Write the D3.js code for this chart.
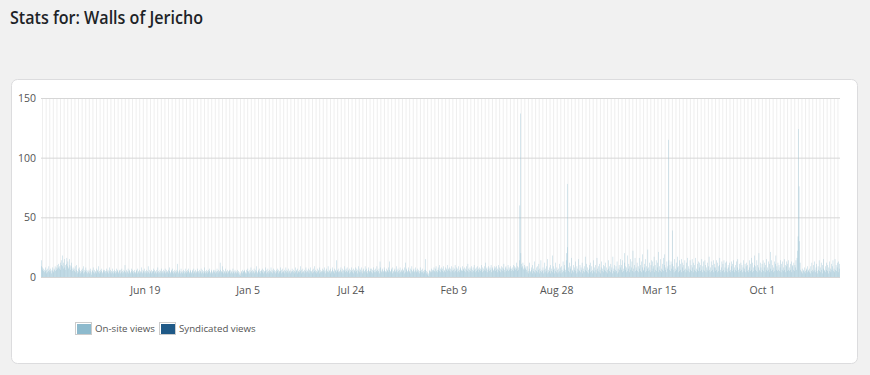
<!doctype html>
<html lang="en">
<head>
	<meta charset="UTF-8">
	<title>Stats for: Walls of Jericho</title>
	<script src="https://d3js.org/d3.v7.min.js"></script>
	<style>
		body { margin: 0; background: #f1f1f1; }
		svg { display: block; }
		text { font-family: 'Open Sans', 'Noto Sans', sans-serif; }
	</style>
</head>
<body>
	<div id="chart"></div>

	<script>
		// daily on-site views, one array per year, one inner array per month
		// 2012 starts on Nov 29
		var views2012 = [
			[14, 9],
			[6,8,5,7,4,6,5,8,3,6, 4,7,5,9,6,4,7,5,3,6, 8,5,4,7,6,9,5,8,6,10, 7]
		]
		var views2013 = [
			[8,11,7,9,12,6,10,14,18,9, 7,12,15,8,10,6,11,16,9,13, 7,8,15,10,6,9,12,7,5,8, 6],
			[7,5,9,4,6,10,5,3,7,4, 6,8,5,3,6,4,7,5,9,3, 4,6,5,8,4,6,3,5],
			[4,6,3,5,7,4,2,6,5,8, 4,3,6,5,4,7,3,5,6,4, 9,5,3,6,4,5,7,3,4,6, 5],
			[6,4,5,3,7,5,4,6,3,5, 8,4,6,3,5,4,7,5,3,6, 4,5,3,7,4,6,5,3,4,6],
			[5,3,6,4,7,5,3,4,6,5, 10,4,3,6,5,4,7,3,5,6, 4,3,5,7,4,6,3,5,4,6, 3],
			[4,6,5,3,7,4,5,6,3,4, 5,8,4,3,6,5,4,7,3,5, 4,6,3,5,9,4,6,3,5,4],
			[6,3,5,4,7,5,3,6,4,5, 3,6,4,8,5,3,4,6,5,3, 7,4,5,3,6,4,5,7,3,4, 6],
			[5,4,6,3,5,8,4,3,6,5, 4,7,3,5,4,6,3,5,4,6, 11,5,3,4,6,5,3,7,4,5, 3],
			[4,6,5,3,7,4,5,3,6,4, 5,7,3,4,6,5,3,4,6,5, 3,7,4,5,6,3,4,5,7,4],
			[5,3,6,4,5,7,3,4,6,5, 3,4,8,5,3,6,4,5,3,6, 4,7,5,3,4,6,5,3,4,6, 5],
			[4,6,3,5,4,7,5,3,6,4, 5,12,6,4,5,9,4,3,6,5, 4,7,3,5,4,6,3,5,4,6],
			[5,3,6,4,5,3,7,4,5,3, 6,4,5,3,4,6,3,5,4,2, 1,3,5,4,6,3,5,4,6,5, 3]
		]
		var views2014 = [
			[4,6,3,5,7,4,5,3,6,4, 8,5,3,6,4,5,7,3,4,6, 5,9,4,3,6,5,4,7,5,3, 6],
			[5,4,7,3,6,5,4,8,5,3, 6,4,7,5,3,6,4,5,8,4, 6,3,5,7,4,6,5,3],
			[6,4,5,7,3,6,5,4,8,5, 3,6,4,7,5,4,6,3,5,8, 4,6,5,3,7,4,5,6,3,5, 4],
			[7,5,4,6,3,5,8,4,6,5, 3,7,4,5,6,4,9,5,3,6, 4,7,5,4,6,3,5,8,4,6],
			[5,4,7,3,6,5,8,4,5,6, 3,7,4,5,9,4,6,3,5,7, 4,6,5,3,8,4,6,5,4,7, 5],
			[6,4,8,5,3,6,7,4,5,9, 4,6,5,3,7,5,4,8,6,4, 5,7,3,6,5,4,14,5,6,4],
			[7,5,4,6,8,4,5,7,3,6, 5,9,6,4,7,5,8,4,6,5, 3,7,6,4,8,5,4,6,7,3, 5],
			[6,8,4,5,7,3,6,9,5,4, 7,6,4,8,5,3,6,7,4,5, 9,6,4,7,5,3,6,8,4,5, 7],
			[5,4,7,6,3,8,5,4,6,7, 4,5,9,6,4,5,7,3,13,8, 5,4,6,7,4,5,8,6,4,5],
			[7,4,6,5,8,4,6,13,5,4, 7,6,3,8,5,4,6,7,4,5, 9,6,4,7,5,3,6,8,4,5, 6],
			[4,7,5,6,3,8,12,4,6,7, 4,5,8,6,4,5,7,3,6,9, 5,4,6,7,4,5,8,6,4,5],
			[7,4,6,5,3,8,5,4,6,7, 4,5,3,6,4,15,6,3,5,4, 2,1,3,5,6,4,5,7,4,6, 5]
		]
		var views2015 = [
			[6,8,5,4,7,9,5,6,4,8, 6,5,10,7,4,6,8,5,7,4, 9,6,5,8,4,7,6,10,5,7, 6],
			[8,5,7,4,9,6,5,8,6,4, 7,10,5,6,8,4,7,5,9,6, 4,8,7,5,6,9,5,7],
			[6,8,5,7,4,9,6,5,11,7, 4,6,8,5,7,9,4,6,8,5, 10,6,4,7,8,5,6,9,4,7, 6],
			[8,5,7,10,6,4,8,7,5,9, 6,12,5,7,8,4,6,9,7,5, 8,6,10,4,7,8,5,6,9,7],
			[5,8,6,9,4,7,10,6,5,8, 7,4,9,6,8,5,7,11,6,4, 8,9,5,7,6,10,5,8,6,7, 9],
			[5,7,8,6,10,5,9,7,6,8, 12,7,5,9,8,6,14,60,137,20, 11,8,9,12,7,6,10,8,7,9],
			[6,4,9,5,3,7,12,5,4,8, 6,3,10,5,7,4,13,6,3,8, 5,9,4,6,11,3,7,5,14,4, 6],
			[5,8,3,6,12,4,7,5,9,3, 15,6,4,8,5,10,3,7,5,18, 4,6,9,3,7,12,5,4,8,6, 3],
			[7,4,11,5,8,3,9,6,4,13, 5,7,10,4,6,14,20,78,25,8, 5,12,4,7,9,3,16,6,5,10],
			[4,8,6,13,5,3,9,7,4,15, 6,5,10,4,8,6,12,3,7,5, 9,4,17,6,5,11,4,8,6,3, 10],
			[7,4,12,5,9,3,6,14,5,8, 4,10,6,3,16,7,5,9,4,11, 6,3,8,13,5,7,4,10,6,9],
			[5,12,4,8,6,3,14,7,5,9, 4,11,6,8,3,17,5,7,10,4, 6,9,5,13,3,7,4,10,6,8, 15]
		]
		var views2016 = [
			[6,10,4,14,7,5,12,20,6,9, 4,8,18,5,7,11,4,9,15,6, 8,13,5,22,7,4,10,16,5,8, 6],
			[12,5,9,4,16,7,10,5,13,4, 8,19,6,5,11,8,4,15,9,5, 7,23,8,5,12,6,4,10,14],
			[5,13,7,9,17,4,10,6,14,5, 8,12,4,21,6,9,5,15,7,4, 11,6,16,5,10,19,6,8,4,13, 7],
			[9,115,14,6,10,5,13,7,11,39, 6,9,4,15,7,5,12,6,17,8, 4,9,14,5,11,6,15,4,8,12],
			[5,10,6,14,7,4,12,6,16,5, 9,7,4,14,6,10,5,15,8,4, 12,6,10,5,16,7,4,11,6,13, 5],
			[8,12,5,10,6,15,4,9,13,6, 5,14,10,4,8,6,12,5,9,17, 6,4,8,13,5,10,6,14,4,8],
			[11,5,8,14,6,4,12,9,5,10, 16,6,4,8,13,5,11,6,14,4, 8,12,5,13,7,4,10,8,5,12, 6],
			[4,9,13,5,11,6,14,8,4,10, 6,13,5,8,15,6,4,11,7,5, 12,6,10,4,8,14,5,7,11,4, 9],
			[12,5,10,6,4,14,8,5,11,16, 6,4,12,8,5,10,18,6,9,5, 14,10,4,8,20,6,5,12,8,4],
			[11,6,14,5,8,12,4,10,6,15, 5,8,13,6,4,11,21,7,5,14, 6,10,4,8,13,5,11,18,6,9, 5],
			[12,6,10,5,8,14,4,11,6,13, 5,8,15,6,10,4,9,13,5,11, 6,14,8,5,11,6,13,4,9,10],
			[6,12,5,10,8,14,6,16,22,34, 124,76,30,12,6,5,4,7,3,5, 6,4,8,5,3,6,7,4,9,5, 6]
		]
		var views2017 = [
			[4,7,3,9,5,12,6,4,10,5, 13,6,4,8,11,5,3,9,6,14, 5,8,4,12,6,3,10,7,15,5, 6],
			[9,4,12,6,5,10,3,8,13,5, 7,4,11,6,9,14,5,7,4,15, 6,10,5,8,12,4,13,7],
			[11]
		]
		// nothing syndicated in this period
		var syndicated = []

		var y_ticks = [0, 50, 100, 150]
		var x_ticks = ['2013-06-19', '2014-01-05', '2014-07-24', '2015-02-09',
			'2015-08-28', '2016-03-15', '2016-10-01']
		var legend_items = ['On-site views', 'Syndicated views']
		var colors = ['#8dbacd', '#1f5987']

		/* ------------------------------ Flatten data ------------------------------ */
		function add_year(list, year, first_month, first_day, months) {
			months.forEach(function(month, m) {
				month.forEach(function(v, i) {
					var day = (m == 0 ? first_day : 1) + i
					list.push({'date': new Date(Date.UTC(year, first_month + m, day)), 'views': v})
				})
			})
		}

		var data = []
		add_year(data, 2012, 10, 29, views2012)
		add_year(data, 2013, 0, 1, views2013)
		add_year(data, 2014, 0, 1, views2014)
		add_year(data, 2015, 0, 1, views2015)
		add_year(data, 2016, 0, 1, views2016)
		add_year(data, 2017, 0, 1, views2017)

		/* ---------------------------------- Setup --------------------------------- */
		var w = 870
		var h = 375
		var plot = {left: 41, right: 840, top: 98, bottom: 277}

		var svg = d3.select('#chart')
			.append('svg')
			.attr('width', w)
			.attr('height', h)

		// title
		svg.append('text')
			.attr('x', 10)
			.attr('y', 24)
			.attr('font-size', 17.5)
			.attr('font-weight', 600)
			.attr('fill', '#1d2327')
			.attr('textLength', 193)
			.attr('lengthAdjust', 'spacingAndGlyphs')
			.text('Stats for: Walls of Jericho')

		// white card
		svg.append('rect')
			.attr('x', 11.5)
			.attr('y', 79.5)
			.attr('width', 846)
			.attr('height', 284)
			.attr('rx', 6)
			.attr('fill', '#fff')
			.attr('stroke', '#dcdcde')

		var first = data[0].date
		var last = d3.utcDay.offset(data[data.length - 1].date, 1)

		var x = d3.scaleUtc()
			.domain([first, last])
			.range([plot.left, plot.right])

		var y = d3.scaleLinear()
			.domain([0, 150])
			.range([plot.bottom, plot.top])

		/* ----------------------------- Weekend stripes ---------------------------- */
		var saturdays = d3.utcSaturday.range(d3.utcDay.offset(first, -6), last)
		svg.append('g')
			.selectAll('rect')
			.data(saturdays)
			.join('rect')
			.attr('x', d => Math.max(plot.left, x(d)))
			.attr('width', d => Math.max(0, Math.min(plot.right, x(d3.utcDay.offset(d, 2))) - Math.max(plot.left, x(d))))
			.attr('y', plot.top)
			.attr('height', plot.bottom - plot.top)
			.attr('fill', '#efefef')

		/* ---------------------------------- Axes ---------------------------------- */
		var y_axis = svg.append('g')
			.attr('transform', 'translate(' + plot.left + ',0)')
			.call(d3.axisLeft(y).tickValues(y_ticks).tickSize(plot.left - plot.right).tickPadding(5))
		y_axis.select('.domain').remove()
		y_axis.selectAll('line').attr('stroke', '#d6d6d6')
		y_axis.selectAll('text')
			.attr('fill', '#545454')
			.attr('font-size', 10.5)
			.style('font-family', "'Open Sans', sans-serif")

		var x_axis = svg.append('g')
			.attr('transform', 'translate(0,' + plot.bottom + ')')
			.call(d3.axisBottom(x)
				.tickValues(x_ticks.map(d => new Date(d + 'T00:00:00Z')))
				.tickFormat(d3.utcFormat('%b %-d'))
				.tickSize(0)
				.tickPadding(10))
		x_axis.select('.domain').remove()
		x_axis.selectAll('text')
			.attr('fill', '#545454')
			.attr('font-size', 10.5)
			.style('font-family', "'Open Sans', sans-serif")

		/* ---------------------------------- Bars ---------------------------------- */
		// bars are a bit narrower than a day, like the original
		svg.append('g')
			.selectAll('rect')
			.data(data)
			.join('rect')
			.attr('x', d => x(d.date))
			.attr('width', d => (x(d3.utcDay.offset(d.date, 1)) - x(d.date)) * 0.7)
			.attr('y', d => y(d.views))
			.attr('height', d => plot.bottom - y(d.views))
			.attr('fill', '#92bed1')

		/* --------------------------------- Legend --------------------------------- */
		var legend_x = [75, 159]
		var legend = svg.append('g')
		legend_items.forEach(function(name, i) {
			legend.append('rect')
				.attr('x', legend_x[i] + 0.5)
				.attr('y', 322.5)
				.attr('width', 16)
				.attr('height', 12)
				.attr('fill', '#fff')
				.attr('stroke', '#ccc')
			legend.append('rect')
				.attr('x', legend_x[i] + 2)
				.attr('y', 324)
				.attr('width', 14)
				.attr('height', 10)
				.attr('fill', colors[i])
			legend.append('text')
				.attr('x', legend_x[i] + 20)
				.attr('y', 332)
				.attr('font-size', 9.7)
				.attr('fill', '#545454')
				.text(name)
		})
	</script>
</body>
</html>
